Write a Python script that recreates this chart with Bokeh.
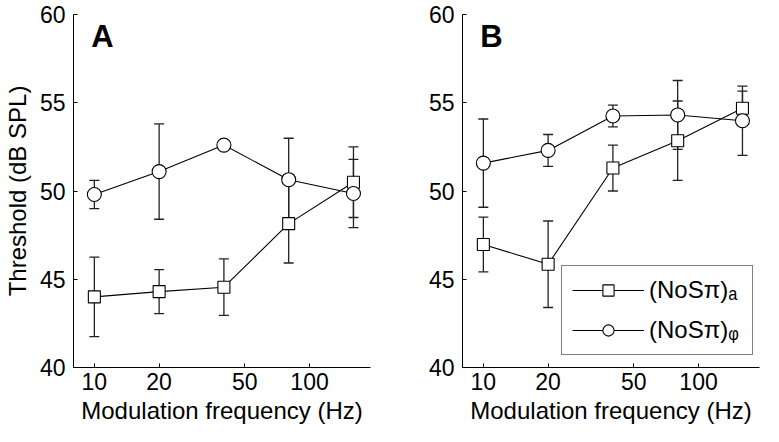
from bokeh.plotting import figure
from bokeh.layouts import row
from bokeh.models import (ColumnDataSource, Whisker, TeeHead, Legend, LegendItem,
                          Label, FixedTicker, Range1d)
from bokeh.embed import file_html
from bokeh.resources import INLINE

# ---- data ----
freqs = [10, 20, 40, 80, 160]
x_ticks = [10, 20, 50, 100]
x_tick_labels = ["10", "20", "50", "100"]
y_ticks = [40, 45, 50, 55, 60]

A_amp = [44.0, 44.3, 44.55, 48.15, 50.5]
A_amp_err = [2.25, 1.25, 1.6, 2.23, 2.0]
A_phi = [49.8, 51.1, 52.6, 50.64, 49.86]
A_phi_err = [0.8, 2.7, 0.25, 2.35, 1.93]

B_amp = [46.97, 45.85, 51.3, 52.85, 54.69]
B_amp_err = [1.55, 2.45, 1.3, 2.25, 0.97]
B_phi = [51.58, 52.3, 54.25, 54.31, 53.98]
B_phi_err = [2.5, 0.9, 0.62, 1.95, 1.96]

series_names = ["(NoS\u03c0)\u2090", "(NoS\u03c0)\u1d69"]

FONT = "Liberation Sans"
H = 426


def make_panel(letter, amp, amp_err, phi, phi_err, width, left_border, right_border, ylabel):
    p = figure(width=width, height=H, x_axis_type="log",
               x_range=Range1d(8, 192), y_range=Range1d(40, 60),
               output_backend="svg", toolbar_location=None,
               min_border_left=left_border, min_border_right=right_border,
               min_border_top=14, min_border_bottom=0)
    p.outline_line_color = None
    p.grid.visible = False
    p.background_fill_color = "white"
    p.border_fill_color = "white"

    for ax in (p.xaxis[0], p.yaxis[0]):
        ax.major_tick_in = 4
        ax.major_tick_out = 0
        ax.minor_tick_line_color = None
        ax.axis_line_color = "black"
        ax.major_tick_line_color = "black"
        ax.major_label_text_font = FONT
        ax.major_label_text_font_size = "23px"
        ax.major_label_text_color = "black"
        ax.axis_label_text_font = FONT
        ax.axis_label_text_font_size = "24px"
        ax.axis_label_text_font_style = "normal"
        ax.axis_label_text_color = "black"

    p.xaxis.ticker = FixedTicker(ticks=x_ticks)
    p.xaxis.major_label_overrides = {t: l for t, l in zip(x_ticks, x_tick_labels)}
    p.xaxis.axis_label = "Modulation frequency (Hz)"
    p.xaxis.major_label_standoff = 5
    p.xaxis.axis_label_standoff = 4
    p.yaxis.ticker = FixedTicker(ticks=y_ticks)
    p.yaxis.major_label_standoff = 8
    if ylabel:
        p.yaxis.axis_label = "Threshold (dB SPL)"
        p.yaxis.axis_label_standoff = 6

    renderers = []
    for vals, errs, marker, size in ((amp, amp_err, "square", 12), (phi, phi_err, "circle", 14)):
        src = ColumnDataSource(dict(
            x=freqs, y=vals,
            upper=[v + e for v, e in zip(vals, errs)],
            lower=[v - e for v, e in zip(vals, errs)]))
        w = Whisker(source=src, base="x", upper="upper", lower="lower",
                    line_color="#222222", line_width=1.3, level="underlay",
                    upper_head=TeeHead(size=10, line_color="#222222", line_width=1.3),
                    lower_head=TeeHead(size=10, line_color="#222222", line_width=1.3))
        p.add_layout(w)
        ln = p.line("x", "y", source=src, line_color="black", line_width=1.1)
        sc = p.scatter("x", "y", source=src, marker=marker, size=size,
                       fill_color="white", line_color="black", line_width=1.1)
        renderers.append((ln, sc))

    p.add_layout(Label(x=10, y=59.75, text=letter, text_font=FONT,
                       text_font_size="31px", text_font_style="bold",
                       text_color="black", text_baseline="top", text_align="left",
                       x_offset=-3))
    return p, renderers


pA, _ = make_panel("A", A_amp, A_amp_err, A_phi, A_phi_err, 382, 56, 12, True)
pB, rB = make_panel("B", B_amp, B_amp_err, B_phi, B_phi_err, 381, 80, 4, False)

legend = Legend(items=[LegendItem(label=series_names[i], renderers=list(rB[i])) for i in range(2)],
                location=(99, 12), orientation="vertical",
                padding=10, spacing=12, margin=0,
                glyph_width=72, glyph_height=28, label_height=28, label_width=93,
                label_standoff=5,
                label_text_font=FONT, label_text_font_size="24px",
                label_text_color="black", label_text_baseline="middle",
                border_line_color="black", border_line_width=1.2,
                background_fill_color="white", background_fill_alpha=1.0)
pB.add_layout(legend)

layout = row(pA, pB)
open("out.html", "w").write(file_html(layout, INLINE))
